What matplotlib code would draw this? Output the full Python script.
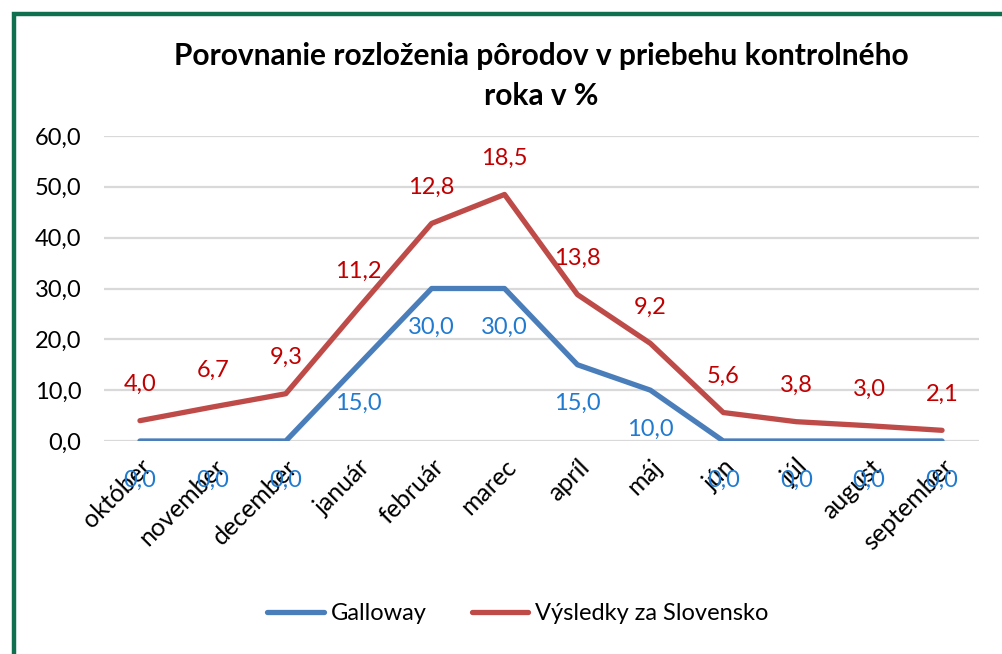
import matplotlib
matplotlib.use('Agg')
import matplotlib.pyplot as plt
from matplotlib.patches import Rectangle
import numpy as np

months = ['október', 'november', 'december', 'január', 'február', 'marec',
          'apríl', 'máj', 'jún', 'júl', 'august', 'september']
galloway = [0.0, 0.0, 0.0, 15.0, 30.0, 30.0, 15.0, 10.0, 0.0, 0.0, 0.0, 0.0]
slovensko = [4.0, 6.7, 9.3, 11.2, 12.8, 18.5, 13.8, 9.2, 5.6, 3.8, 3.0, 2.1]
yticks = [0, 10, 20, 30, 40, 50, 60]

plt.rcParams['font.family'] = ['Lato', 'DejaVu Sans']

W, H = 1002, 654
fig = plt.figure(figsize=(W / 100, H / 100), dpi=100)

# zelený rámik (ľavá a horná hrana)
fig.patches.append(Rectangle((14 / W, -0.1), 1.2, (H - 14) / H + 0.1,
                             transform=fig.transFigure, fill=False,
                             edgecolor='#0f7050', lw=3.2))

ax = fig.add_axes([103.5 / W, (H - 441) / H, 875 / W, 305 / H])
x = np.arange(len(months))
gal = np.array(galloway)
stacked = gal + np.array(slovensko)  # naskladaný čiarový graf

ax.plot(x, gal, color='#4a7ebb', lw=3.8, solid_capstyle='round', zorder=3,
        label='Galloway')
ax.plot(x, stacked, color='#be4b48', lw=3.8, solid_capstyle='round', zorder=3,
        label='Výsledky za Slovensko')

fs = 17
for xi, g, s, v in zip(x, gal, stacked, slovensko):
    ax.annotate(f'{g:.1f}'.replace('.', ','), (xi, g), textcoords='offset points',
                xytext=(0, -28), ha='center', va='center', fontsize=fs,
                color='#1f7ad0', zorder=5)
    ax.annotate(f'{v:.1f}'.replace('.', ','), (xi, s), textcoords='offset points',
                xytext=(0, 26), ha='center', va='center', fontsize=fs,
                color='#c00000', zorder=5)

ax.set_xlim(-0.5, len(months) - 0.5)
ax.set_ylim(0, 60)
ax.set_yticks(yticks)
ax.set_yticklabels([f'{t:.1f}'.replace('.', ',') for t in yticks], fontsize=fs)
ax.set_xticks(x)
ax.set_xticklabels(months, rotation=45, ha='right', rotation_mode='anchor',
                   fontsize=18)
for lbl in ax.get_xticklabels():
    lbl.set_x(lbl.get_position()[0])
ax.tick_params(length=0, pad=16)
ax.tick_params(axis='x', pad=10)
ax.grid(axis='y', color='#d9d9d9', lw=1.6)
ax.set_axisbelow(True)
for sp in ax.spines.values():
    sp.set_visible(False)

fig.text(541 / W, 1 - 76 / H, 'Porovnanie rozloženia pôrodov v priebehu kontrolného\nroka v %',
         ha='center', va='center', fontsize=21.5, fontweight='bold',
         linespacing=1.5)

fig.legend(loc='center', bbox_to_anchor=(518 / W, 1 - 614 / H), ncol=2,
           frameon=False, fontsize=fs, handlelength=2.4, columnspacing=1.9,
           handletextpad=0.3)

fig.savefig('out.png', dpi=100, facecolor='white')
